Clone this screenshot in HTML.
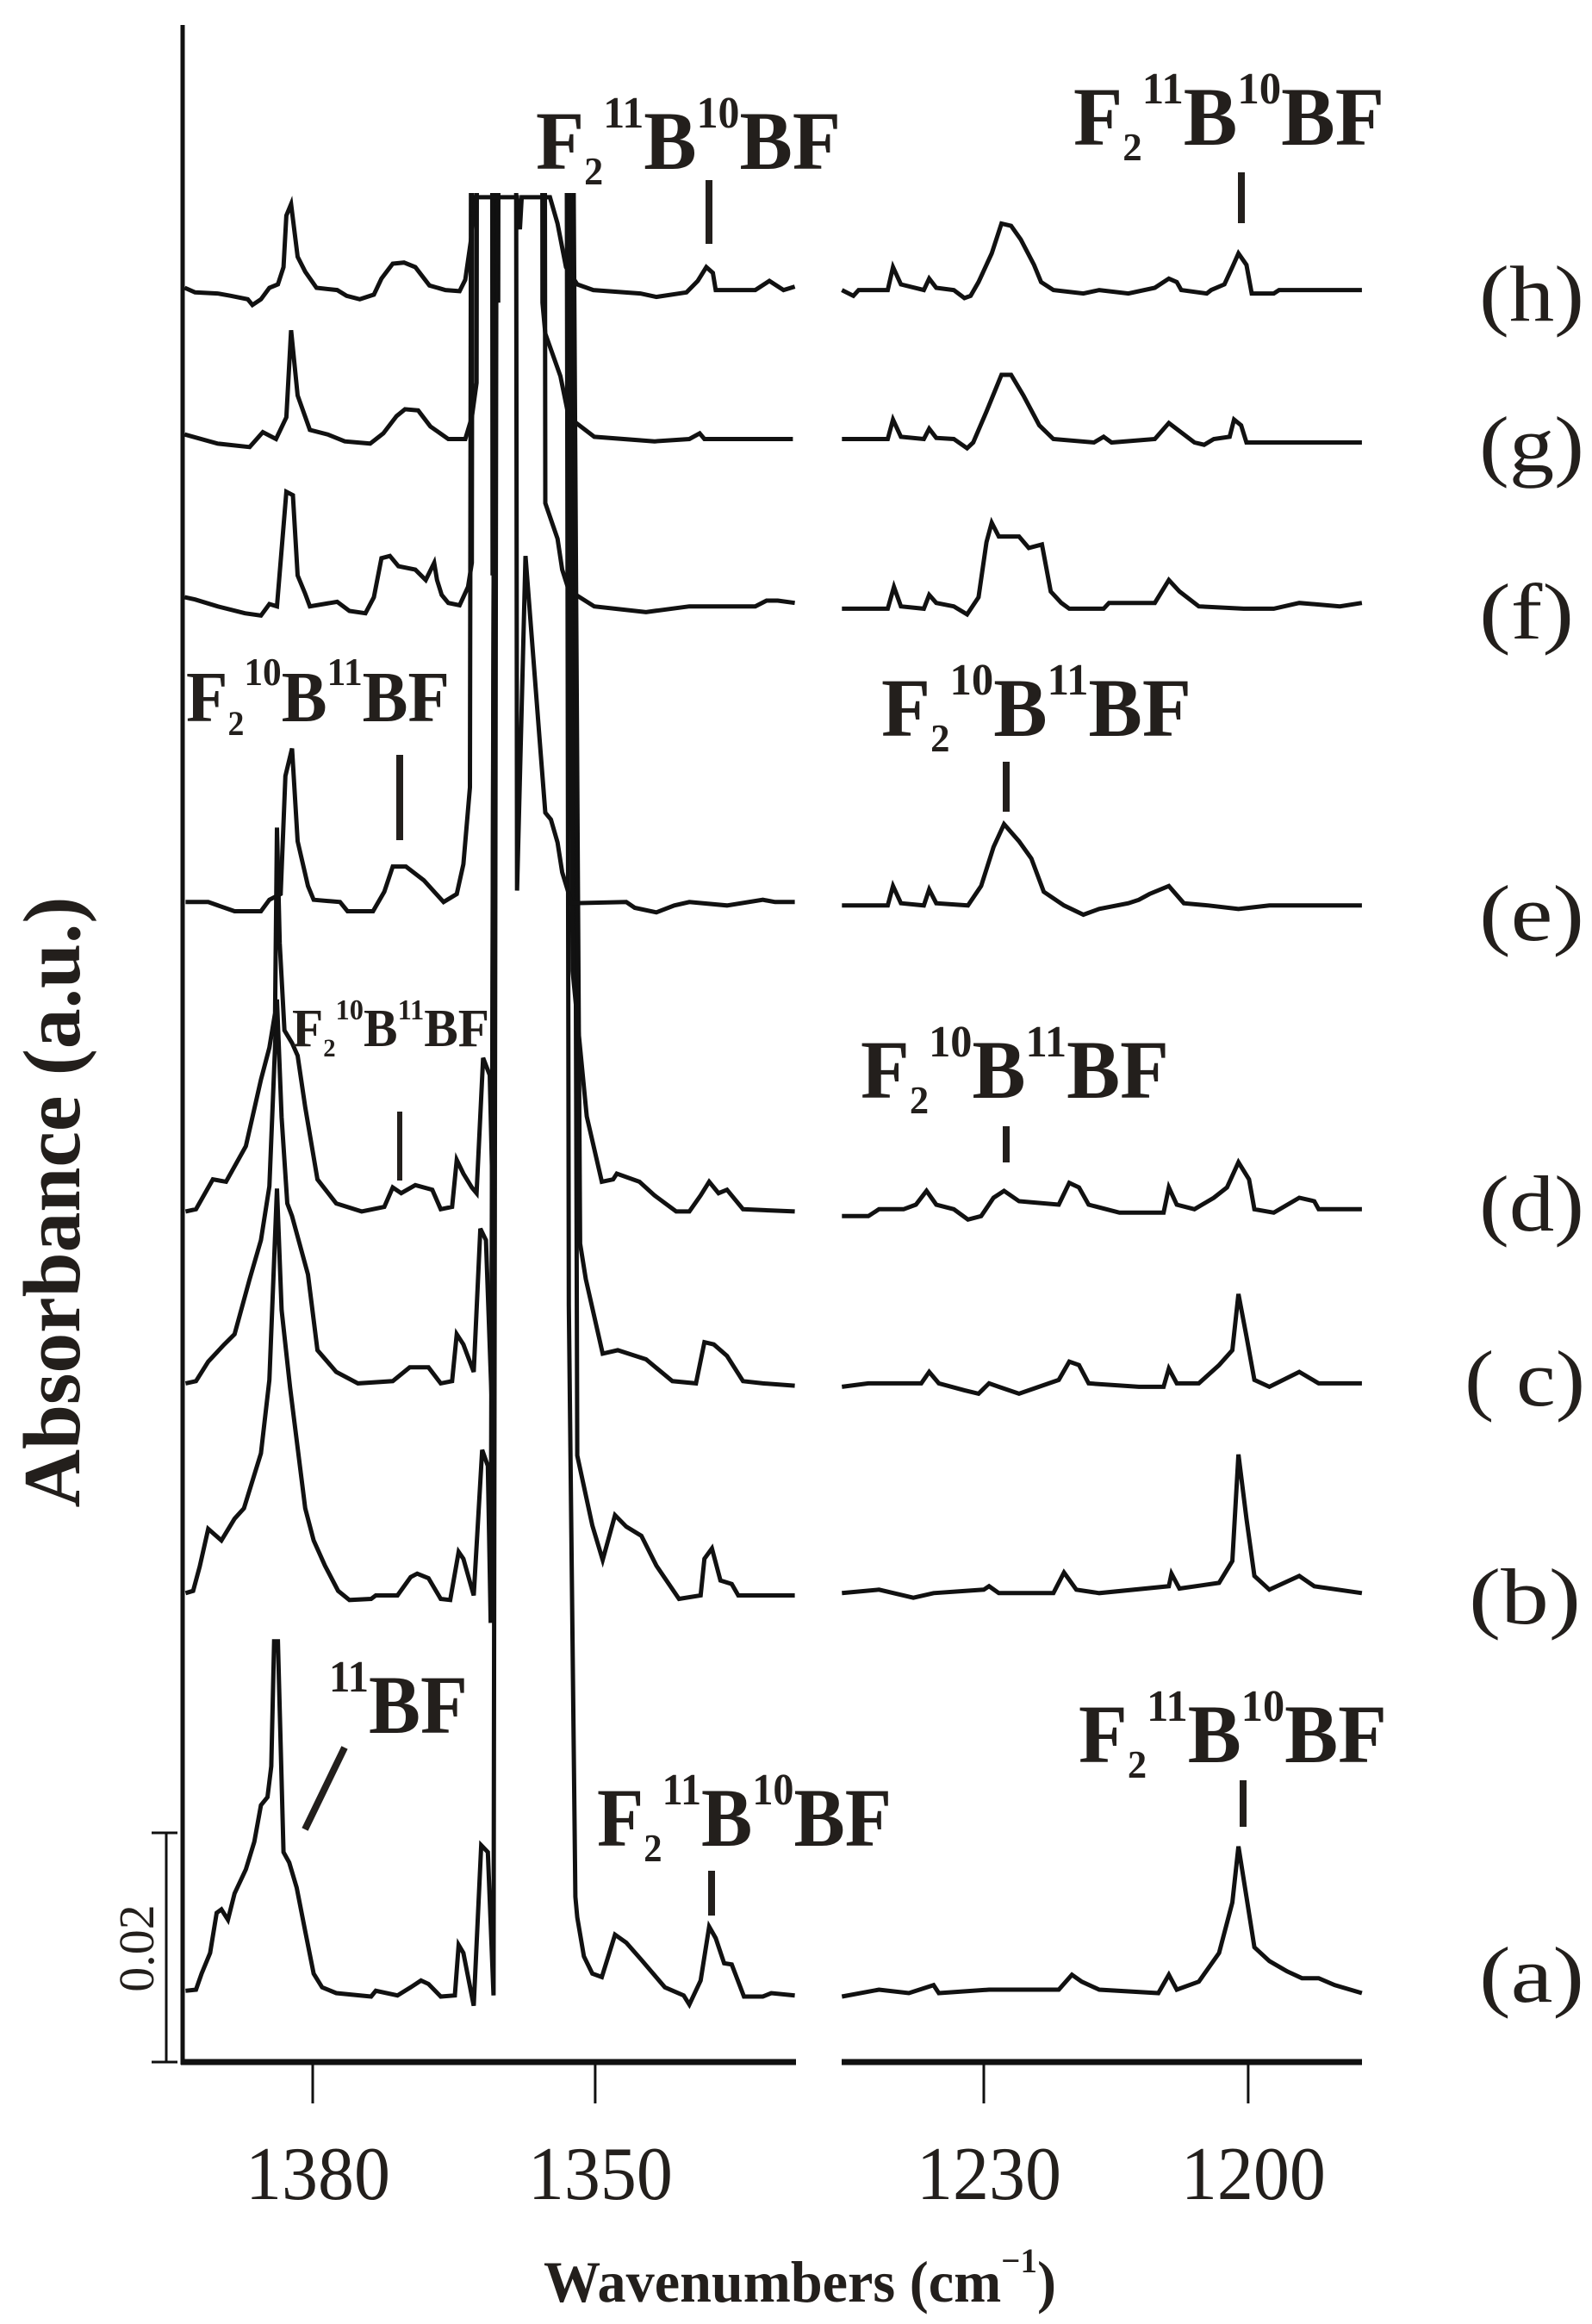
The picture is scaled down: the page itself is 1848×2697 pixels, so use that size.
<!DOCTYPE html>
<html><head><meta charset="utf-8"><style>
html,body{margin:0;padding:0;background:#fff;}
svg{display:block;}
text{font-family:"Liberation Serif",serif;fill:#231f1c;}
</style></head><body>
<svg id="chart" width="1848" height="2697" viewBox="0 0 1848 2697" xmlns="http://www.w3.org/2000/svg">
<rect width="1848" height="2697" fill="#fff"/>
<defs>
<clipPath id="clipL"><rect x="212" y="224" width="714" height="2170"/></clipPath>
<clipPath id="clipR"><rect x="975" y="150" width="610" height="2240"/></clipPath>
</defs>
<g id="traces"></g>
<g stroke="#111" fill="none">
<line x1="212" y1="29" x2="212" y2="2396" stroke-width="5"/>
<line x1="210" y1="2393" x2="924" y2="2393" stroke-width="7"/>
<line x1="977" y1="2393" x2="1581" y2="2393" stroke-width="7"/>
<line x1="193" y1="2127" x2="193" y2="2393" stroke-width="3"/>
<line x1="176" y1="2127" x2="206" y2="2127" stroke-width="3"/>
<line x1="176" y1="2393" x2="206" y2="2393" stroke-width="3"/>
</g>
<g id="xticks"></g>
<text transform="translate(178,2261) rotate(-90)" text-anchor="middle" font-size="58">0.02</text>
<text transform="translate(92,1395) rotate(-90)" text-anchor="middle" font-size="94" font-weight="bold" textLength="709" lengthAdjust="spacingAndGlyphs">Absorbance (a.u.)</text>
<text x="631" y="2671" font-size="68" font-weight="bold" textLength="595" lengthAdjust="spacingAndGlyphs">Wavenumbers (cm<tspan font-size="40" dy="-34">−1</tspan><tspan dy="34">)</tspan></text>

<g font-size="92">
<text x="1717" y="372" textLength="122" lengthAdjust="spacingAndGlyphs">(h)</text>
<text x="1717" y="547" textLength="122" lengthAdjust="spacingAndGlyphs">(g)</text>
<text x="1717" y="741" textLength="110" lengthAdjust="spacingAndGlyphs">(f)</text>
<text x="1717" y="1091" textLength="122" lengthAdjust="spacingAndGlyphs">(e)</text>
<text x="1717" y="1428" textLength="122" lengthAdjust="spacingAndGlyphs">(d)</text>
<text x="1700" y="1631" textLength="140" lengthAdjust="spacingAndGlyphs">( c)</text>
<text x="1705" y="1884" textLength="130" lengthAdjust="spacingAndGlyphs">(b)</text>
<text x="1717" y="2323" textLength="122" lengthAdjust="spacingAndGlyphs">(a)</text>
</g>

<g font-weight="bold">
<text x="622" y="196" font-size="96" textLength="354" lengthAdjust="spacingAndGlyphs">F<tspan font-size="46" dy="18">2</tspan><tspan font-size="52" dy="-66">11</tspan><tspan font-size="96" dy="48">B</tspan><tspan font-size="52" dy="-48">10</tspan><tspan font-size="96" dy="48">BF</tspan></text>
<text x="1246" y="168" font-size="96" textLength="361" lengthAdjust="spacingAndGlyphs">F<tspan font-size="46" dy="18">2</tspan><tspan font-size="52" dy="-66">11</tspan><tspan font-size="96" dy="48">B</tspan><tspan font-size="52" dy="-48">10</tspan><tspan font-size="96" dy="48">BF</tspan></text>
<text x="216" y="837" font-size="84" textLength="306" lengthAdjust="spacingAndGlyphs">F<tspan font-size="40" dy="16">2</tspan><tspan font-size="46" dy="-58">10</tspan><tspan font-size="84" dy="42">B</tspan><tspan font-size="46" dy="-42">11</tspan><tspan font-size="84" dy="42">BF</tspan></text>
<text x="1023" y="854" font-size="96" textLength="360" lengthAdjust="spacingAndGlyphs">F<tspan font-size="46" dy="18">2</tspan><tspan font-size="52" dy="-66">10</tspan><tspan font-size="96" dy="48">B</tspan><tspan font-size="52" dy="-48">11</tspan><tspan font-size="96" dy="48">BF</tspan></text>
<text x="339" y="1214" font-size="62" textLength="229" lengthAdjust="spacingAndGlyphs">F<tspan font-size="30" dy="12">2</tspan><tspan font-size="34" dy="-43">10</tspan><tspan font-size="62" dy="31">B</tspan><tspan font-size="34" dy="-31">11</tspan><tspan font-size="62" dy="31">BF</tspan></text>
<text x="999" y="1274" font-size="96" textLength="358" lengthAdjust="spacingAndGlyphs">F<tspan font-size="46" dy="18">2</tspan><tspan font-size="52" dy="-66">10</tspan><tspan font-size="96" dy="48">B</tspan><tspan font-size="52" dy="-48">11</tspan><tspan font-size="96" dy="48">BF</tspan></text>
<text x="1252" y="2045" font-size="96" textLength="358" lengthAdjust="spacingAndGlyphs">F<tspan font-size="46" dy="18">2</tspan><tspan font-size="52" dy="-66">11</tspan><tspan font-size="96" dy="48">B</tspan><tspan font-size="52" dy="-48">10</tspan><tspan font-size="96" dy="48">BF</tspan></text>
<text x="693" y="2142" font-size="96" textLength="342" lengthAdjust="spacingAndGlyphs">F<tspan font-size="46" dy="18">2</tspan><tspan font-size="52" dy="-66">11</tspan><tspan font-size="96" dy="48">B</tspan><tspan font-size="52" dy="-48">10</tspan><tspan font-size="96" dy="48">BF</tspan></text>
<text x="382" y="2011" font-size="96" textLength="161" lengthAdjust="spacingAndGlyphs"><tspan font-size="52" dy="-48">11</tspan><tspan font-size="96" dy="48">BF</tspan></text>
</g>
<g stroke="#231f1c" stroke-width="8">
<line x1="823" y1="209" x2="823" y2="283"/>
<line x1="1441" y1="200" x2="1441" y2="259"/>
<line x1="464" y1="876" x2="464" y2="975"/>
<line x1="1168" y1="884" x2="1168" y2="942"/>
<line x1="464" y1="1290" x2="464" y2="1370" stroke-width="6"/>
<line x1="1168" y1="1307" x2="1168" y2="1349"/>
<line x1="1443" y1="2066" x2="1443" y2="2120"/>
<line x1="826" y1="2171" x2="826" y2="2223"/>
<line x1="400" y1="2028" x2="354" y2="2123"/>
</g>
</svg>
<script>
const traceNames = ["a","b","c","d","e","f","g","h"];
const traceOffsets = [0, 34.9, 53.2, 68.4, 94.9, 121.0, 135.6, 148.6];
const SAT = 200;
const xTicksLeft = [1380, 1350];
const xTicksRight = [1230, 1200];

const aL_wn = [1393.5,1392.4,1391.8,1390.9,1390.2,1389.7,1389.0,1388.3,1387.1,1386.2,1385.5,1384.8,1384.4,1384.1,1383.7,1383.1,1382.5,1381.7,1380.8,1379.9,1379.0,1377.5,1373.8,1373.3,1371.0,1369.6,1368.5,1367.7,1366.4,1364.9,1364.5,1364.0,1362.9,1362.1,1361.4,1360.8,1360.4,1353.1,1352.8,1352.1,1351.9,1351.2,1350.3,1349.3,1347.9,1346.7,1345.1,1342.6,1340.6,1340.0,1338.8,1337.9,1337.2,1336.3,1335.5,1334.2,1332.2,1331.3,1328.8];
const aL_ab = [0.2,0.3,1.7,3.5,7.0,7.3,6.4,8.7,10.8,13.2,16.4,17.1,19.8,30.7,30.7,12.3,11.4,9.2,5.4,1.7,0.5,0,-0.3,0.2,-0.2,0.5,1.1,0.8,-0.3,-0.2,4.2,3.5,-1.1,12.9,12.3,-0.2,SAT,SAT,60,8.4,6.6,3.2,1.7,1.4,5.1,4.4,2.9,0.5,-0.2,-1.0,1.1,5.8,4.8,2.6,2.5,-0.3,-0.3,0,-0.2];
const aR_wn = [1246.1,1241.9,1238.5,1235.7,1235.1,1229.4,1221.5,1220.0,1218.9,1216.9,1210.2,1209.0,1208.1,1205.6,1203.3,1201.8,1201.1,1200.2,1199.3,1197.6,1195.6,1193.9,1192.0,1190.2,1187.1];
const aR_ab = [-0.3,0.3,0,0.7,0,0.3,0.3,1.6,1.0,0.3,0,1.6,0.3,1.0,3.5,7.9,12.8,8.4,4.0,2.8,1.9,1.3,1.3,0.7,0];

const bL_wn = [1393.5,1392.7,1392.0,1391.1,1389.7,1388.3,1387.3,1385.5,1384.6,1383.8,1383.3,1382.4,1380.8,1379.9,1378.7,1377.3,1376.1,1373.8,1373.3,1371.0,1369.6,1368.9,1367.7,1366.4,1365.4,1364.5,1364.0,1362.9,1362.0,1361.4,1361.1,1360.4,1352.6,1351.9,1350.3,1349.2,1347.9,1346.7,1345.1,1343.5,1341.1,1338.8,1338.4,1337.6,1336.7,1335.5,1334.8,1328.8];
const bL_ab = [0,0.2,2.3,5.6,4.6,6.5,7.4,12.2,18.6,35.3,24.7,17.9,7.4,4.6,2.4,0.2,-0.6,-0.5,-0.2,-0.2,1.4,1.7,1.3,-0.5,-0.6,3.6,3.0,-0.2,12.5,11.1,-2.6,SAT,SAT,12.0,5.9,2.9,6.8,5.8,5.0,2.4,-0.5,-0.2,3.0,3.9,1.1,0.8,-0.2,-0.2];
const bR_wn = [1246.1,1241.9,1238.0,1235.7,1230.0,1229.4,1228.3,1222.1,1220.9,1219.5,1216.9,1209.0,1208.7,1207.8,1203.3,1201.8,1201.1,1200.2,1199.3,1197.6,1194.2,1192.5,1187.1];
const bR_ab = [0,0.3,-0.4,0,0.3,0.6,0,0,1.8,0.3,0,0.6,1.7,0.4,0.9,2.8,12.1,6.5,1.5,0.3,1.5,0.6,0];

const cL_wn = [1393.5,1392.4,1391.1,1389.4,1388.3,1386.7,1385.5,1384.6,1383.8,1383.3,1382.7,1382.2,1380.5,1379.5,1377.5,1375.2,1371.5,1369.7,1367.7,1366.4,1365.2,1364.7,1364.0,1362.9,1362.2,1361.6,1361.0,1360.4,1353.0,1351.6,1351.0,1349.2,1347.6,1344.6,1341.8,1339.3,1338.4,1337.4,1336.0,1334.3,1332.2,1328.8];
const cL_ab = [0,0.2,1.9,3.4,4.3,9.1,12.5,17.2,33.5,23.2,15.7,14.6,9.5,2.9,1.0,0,0.2,1.4,1.4,0,0.2,4.3,3.4,1.0,13.5,12.5,-1.4,SAT,SAT,12.2,9.1,2.6,2.9,2.1,0.2,0,3.6,3.4,2.4,0.2,0,-0.2];
const cR_wn = [1246.1,1243.1,1237.1,1236.2,1235.1,1232.2,1230.6,1229.4,1228.3,1226.0,1221.5,1220.3,1219.2,1218.1,1212.4,1209.6,1209.0,1208.1,1205.6,1203.3,1201.8,1201.1,1200.2,1199.3,1197.6,1194.2,1192.0,1187.1];
const cR_ab = [-0.3,0,0,1.0,0,-0.6,-0.9,0,-0.3,-0.9,0.3,1.9,1.6,0,-0.3,-0.3,1.3,0,0,1.6,2.9,7.8,4.1,0.3,-0.3,1.0,0,0];

const dL_wn = [1393.5,1392.4,1390.6,1389.2,1387.1,1385.5,1384.6,1384.0,1383.8,1383.5,1383.0,1382.2,1381.6,1380.8,1379.5,1377.5,1374.8,1372.4,1371.5,1370.6,1369.1,1367.3,1366.4,1365.2,1364.7,1364.0,1363.1,1362.6,1361.9,1361.2,1360.8,1360.4,1353.3,1352.4,1350.9,1349.3,1348.1,1347.7,1345.3,1343.7,1341.4,1340.0,1338.8,1337.9,1336.9,1336.0,1334.3,1328.8];
const dL_ab = [-0.2,0,2.6,2.4,5.5,11.3,14.1,17.1,33.3,23.2,15.6,14.5,13.4,8.9,2.6,0.5,-0.2,0.2,1.9,1.4,2.1,1.7,0,0.2,4.3,3.1,1.9,1.4,13.2,11.7,-2.2,SAT,SAT,20.8,8.1,2.4,2.6,3.1,2.4,1.2,-0.2,-0.2,1.2,2.4,1.4,1.7,0,-0.2];
const dR_wn = [1246.1,1243.1,1241.9,1239.1,1237.7,1236.5,1235.4,1233.4,1231.8,1230.3,1228.9,1227.7,1226.0,1221.5,1220.3,1219.2,1218.1,1214.6,1209.6,1209.0,1208.1,1206.1,1203.9,1202.4,1201.1,1199.9,1199.3,1197.1,1194.2,1192.5,1192.0,1187.1];
const dR_ab = [-0.6,-0.6,0,0,0.4,1.6,0.4,0,-0.9,-0.6,1.0,1.6,0.7,0.4,2.3,1.9,0.4,-0.3,-0.3,1.9,0.4,0,1.0,1.9,4.1,2.6,0,-0.3,1.0,0.7,0,0];

const eL_wn = [1393.5,1391.1,1388.3,1385.5,1384.6,1383.4,1382.9,1382.2,1381.6,1380.5,1379.9,1377.1,1376.3,1373.6,1372.4,1371.5,1370.1,1368.2,1366.1,1364.7,1364.0,1363.3,1362.9,1358.6,1358.3,1357.4,1355.8,1355.3,1354.7,1354.0,1353.5,1352.5,1346.7,1345.8,1343.5,1341.6,1340.0,1336.0,1332.2,1330.9,1328.8];
const eL_ab = [0.3,0.3,-0.5,-0.5,0.5,1.0,11.3,13.7,5.6,1.7,0.5,0.3,-0.5,-0.5,1.2,3.4,3.4,2.2,0.3,1.0,3.6,10.3,SAT,SAT,1.3,30.5,13.4,8.1,7.5,5.5,2.9,0.2,0.3,-0.2,-0.6,0,0.3,0,0.5,0.3,0.3];
const eR_wn = [1246.1,1240.9,1240.3,1239.4,1236.8,1236.2,1235.4,1231.8,1230.3,1228.9,1227.7,1226.0,1224.6,1223.2,1220.9,1218.7,1216.9,1213.6,1212.4,1211.2,1209.0,1207.3,1204.5,1201.1,1197.6,1187.1];
const eR_ab = [0,0,1.7,0.2,0,1.4,0.2,0,1.7,5.1,7.1,5.6,4.1,1.2,0,-0.8,-0.3,0.2,0.5,1.0,1.7,0.2,0,-0.3,0,0];

const fL_wn = [1393.6,1392.5,1390.1,1387.2,1385.5,1384.6,1383.8,1382.8,1382.1,1381.6,1380.8,1380.3,1377.4,1376.1,1374.4,1373.5,1372.7,1371.8,1370.9,1369.1,1368.0,1367.1,1366.8,1366.3,1365.6,1364.4,1363.5,1363.1,1362.8,1361.1,1360.9,1360.7,1355.6,1355.3,1354.0,1353.5,1352.8,1350.1,1344.6,1340.0,1333.0,1331.8,1330.6,1328.8];
const fL_ab = [0.8,0.6,0,-0.6,-0.8,0.2,0,10.0,9.7,2.7,1.1,0,0.4,-0.4,-0.6,0.8,4.2,4.4,3.5,3.2,2.3,3.8,2.3,1.0,0.3,0.1,1.7,3.8,SAT,SAT,2.7,SAT,SAT,9.0,5.9,3.2,1.4,0,-0.5,0,0,0.5,0.5,0.3];
const fR_wn = [1246.1,1240.9,1240.2,1239.4,1236.8,1236.2,1235.4,1233.4,1231.9,1230.6,1229.7,1229.1,1228.3,1226.0,1224.9,1223.4,1222.4,1221.2,1220.3,1216.4,1215.8,1210.6,1209.0,1207.8,1205.6,1200.5,1197.1,1194.2,1189.6,1187.1];
const fR_ab = [-0.2,-0.2,1.7,0,-0.2,1.0,0.3,0,-0.7,0.8,5.6,7.3,6.1,6.1,5.1,5.4,1.3,0.3,-0.2,-0.2,0.3,0.3,2.3,1.3,0,-0.2,-0.2,0.3,0,0.3];

const gL_wn = [1393.6,1390.1,1386.7,1385.3,1383.9,1382.8,1382.3,1381.6,1380.3,1378.4,1376.6,1373.9,1372.5,1371.1,1370.2,1368.8,1367.5,1365.6,1363.8,1363.1,1362.6,1362.3,1360.6,1360.3,1360.0,1355.8,1355.6,1355.3,1353.7,1352.8,1350.1,1343.7,1340.0,1338.9,1338.4,1329.0];
const gL_ab = [0.4,-0.4,-0.7,0.6,0,1.9,9.5,3.8,0.8,0.4,-0.2,-0.4,0.5,2.0,2.6,2.5,1.1,0,0,1.9,4.9,SAT,SAT,11.9,SAT,SAT,11.9,9.2,5.5,1.9,0.2,-0.2,0,0.5,0,0];
const gR_wn = [1246.1,1240.9,1240.3,1239.4,1236.8,1236.2,1235.4,1233.4,1231.9,1231.2,1229.7,1228.0,1226.9,1225.5,1223.7,1222.1,1217.5,1216.4,1215.5,1210.6,1209.0,1207.8,1206.1,1205.0,1203.9,1202.1,1201.6,1200.8,1200.2,1187.1];
const gR_ab = [0,0,1.7,0.2,0,0.9,0.1,0,-0.8,-0.3,2.4,5.6,5.6,3.8,1.2,0,-0.3,0.2,-0.3,0,1.4,0.7,-0.3,-0.5,0,0.2,1.7,1.2,-0.3,-0.3];

const hL_wn = [1393.6,1392.5,1390.1,1388.7,1386.9,1386.4,1385.5,1384.6,1383.7,1383.1,1382.8,1382.3,1381.6,1380.8,1379.6,1377.4,1376.4,1375.0,1373.5,1372.7,1371.5,1370.3,1369.1,1367.6,1365.9,1364.4,1363.8,1363.2,1362.7,1358.3,1358.0,1357.8,1354.8,1354.0,1353.1,1351.9,1350.2,1345.2,1343.5,1340.3,1339.1,1338.2,1337.5,1337.2,1333.0,1331.5,1330.0,1328.8];
const hL_ab = [0.2,-0.2,-0.3,-0.5,-0.8,-1.3,-0.8,0.2,0.5,2.0,6.5,7.5,2.9,1.6,0.2,0,-0.5,-0.8,-0.4,1.0,2.3,2.4,2.0,0.4,0,-0.1,0.9,4.3,8.1,8.1,5.3,8.1,8.1,5.8,2.0,0.5,0,-0.3,-0.6,-0.2,0.8,2.0,1.5,0,0,0.8,0,0.3];
const hR_wn = [1246.1,1244.8,1244.2,1240.9,1240.3,1239.4,1236.8,1236.2,1235.4,1233.4,1232.2,1231.5,1230.6,1229.1,1228.0,1226.9,1225.8,1224.3,1223.5,1222.1,1218.7,1216.9,1213.6,1210.6,1209.0,1208.1,1207.6,1204.7,1204.2,1202.7,1201.8,1201.1,1200.2,1199.6,1197.1,1196.5,1187.1];
const hR_ab = [0,-0.5,0,0,2.0,0.5,0,1.0,0.2,0,-0.7,-0.5,0.7,3.2,5.8,5.6,4.4,2.2,0.7,0,-0.3,0,-0.3,0.2,1.0,0.7,0,-0.3,0,0.5,2.0,3.2,2.2,-0.3,-0.3,0,0];

function xL(w){ return 363 + (1380 - w) * 10.93; }
function xR(w){ return 1142 + (1230 - w) * 10.23; }
const Y0 = 2313, PX_PER_UNIT = 13.3;
function yOf(off, v){ return Y0 - (off + v) * PX_PER_UNIT; }

const NS = "http://www.w3.org/2000/svg";
const gT = document.getElementById("traces");
const leftSets = [[aL_wn,aL_ab],[bL_wn,bL_ab],[cL_wn,cL_ab],[dL_wn,dL_ab],[eL_wn,eL_ab],[fL_wn,fL_ab],[gL_wn,gL_ab],[hL_wn,hL_ab]];
const rightSets = [[aR_wn,aR_ab],[bR_wn,bR_ab],[cR_wn,cR_ab],[dR_wn,dR_ab],[eR_wn,eR_ab],[fR_wn,fR_ab],[gR_wn,gR_ab],[hR_wn,hR_ab]];

function drawTrace(wn, ab, off, xf, clip, name){
  let d = "";
  for (let i = 0; i < wn.length; i++){
    d += (i ? "L" : "M") + xf(wn[i]).toFixed(1) + " " + yOf(off, ab[i]).toFixed(1);
  }
  const p = document.createElementNS(NS, "path");
  p.setAttribute("d", d);
  p.setAttribute("fill", "none");
  p.setAttribute("stroke", "#111");
  p.setAttribute("stroke-width", "5");
  p.setAttribute("stroke-linejoin", "miter");
  p.setAttribute("clip-path", "url(#" + clip + ")");
  
  
  gT.appendChild(p);
}
for (let t = 0; t < traceNames.length; t++){
  drawTrace(leftSets[t][0], leftSets[t][1], traceOffsets[t], xL, "clipL", "trace-" + traceNames[t] + "-left");
  drawTrace(rightSets[t][0], rightSets[t][1], traceOffsets[t], xR, "clipR", "trace-" + traceNames[t] + "-right");
}

const gX = document.getElementById("xticks");
function addTick(x, label){
  const l = document.createElementNS(NS, "line");
  l.setAttribute("x1", x); l.setAttribute("x2", x);
  l.setAttribute("y1", 2393); l.setAttribute("y2", 2441);
  l.setAttribute("stroke", "#111"); l.setAttribute("stroke-width", "3");
  
  
  gX.appendChild(l);
  const t = document.createElementNS(NS, "text");
  t.setAttribute("x", x + 6); t.setAttribute("y", 2552);
  t.setAttribute("text-anchor", "middle");
  t.setAttribute("font-size", "88");
  t.setAttribute("textLength", "168");
  t.setAttribute("lengthAdjust", "spacingAndGlyphs");
  t.textContent = label;
  
  
  gX.appendChild(t);
}
xTicksLeft.forEach(w => addTick(xL(w), String(w)));
xTicksRight.forEach(w => addTick(xR(w), String(w)));
</script>
</body></html>
